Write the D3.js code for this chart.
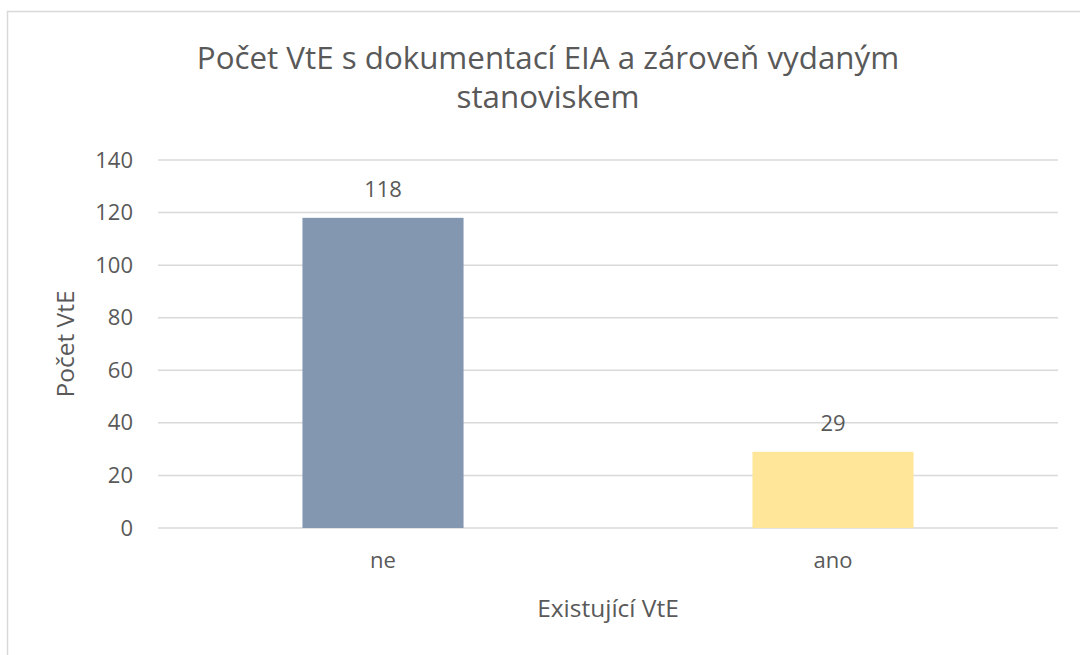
<!DOCTYPE html>
<html><head><meta charset="utf-8">
<script src="https://cdn.jsdelivr.net/npm/d3@7"></script>
<style>body{margin:0;background:#fff;} text{font-family:"Open Sans",sans-serif;fill:#595959;}</style>
</head><body>
<svg id="c" width="1080" height="655"></svg>
<script>
const categories = ["ne", "ano"];
const values = [118, 29];
const colors = ["#8497B0", "#FFE699"];
const yTicks = [0, 20, 40, 60, 80, 100, 120, 140];
const titleLines = ["Počet VtE s dokumentací EIA a zároveň vydaným", "stanoviskem"];
const yTitle = "Počet VtE";
const xTitle = "Existující VtE";

(function () {
const FF = "'Open Sans',sans-serif";
const svg = d3.select("#c");
svg.append("rect").attr("x", 7.5).attr("y", 11.5).attr("width", 1085).attr("height", 660)
  .attr("fill", "#fff").attr("stroke", "#D9D9D9").attr("stroke-width", 1.5);

const pL = 158, pR = 1058, pT = 160, pB = 528;
const x = d3.scaleBand().domain(categories).range([pL, pR]).paddingInner(0.642).paddingOuter(0.321);
const y = d3.scaleLinear().domain([0, 140]).range([pB, pT]);

const grid = svg.append("g");
grid.selectAll("line").data(yTicks).join("line")
  .attr("x1", pL).attr("x2", pR).attr("y1", d => y(d)).attr("y2", d => y(d))
  .attr("stroke", "#D9D9D9").attr("stroke-width", 1.5);

const yAxis = svg.append("g").attr("transform", `translate(${pL},0)`)
  .call(d3.axisLeft(y).tickValues(yTicks).tickSize(0).tickPadding(25));
yAxis.select(".domain").remove();
yAxis.selectAll("text").style("font-size", "22px").attr("fill", "#595959").style("font-family", FF);

svg.selectAll("rect.bar").data(values).join("rect").attr("class", "bar")
  .attr("x", (d, i) => x(categories[i])).attr("width", x.bandwidth())
  .attr("y", d => y(d)).attr("height", d => y(0) - y(d))
  .attr("fill", (d, i) => colors[i]);

svg.selectAll("text.lab").data(values).join("text").attr("class", "lab")
  .attr("x", (d, i) => x(categories[i]) + x.bandwidth() / 2).attr("y", d => y(d) - 21)
  .attr("text-anchor", "middle").style("font-size", "22px").text(d => d);

const xAxis = svg.append("g").attr("transform", `translate(0,${pB})`)
  .call(d3.axisBottom(x).tickSize(0).tickPadding(24));
xAxis.select(".domain").remove();
xAxis.selectAll("text").style("font-size", "22px").attr("fill", "#595959").style("font-family", FF);

const t = svg.append("text").attr("text-anchor", "middle").style("font-size", "31.3px");
titleLines.forEach((l, i) => t.append("tspan").attr("x", 548).attr("y", 69 + i * 39).text(l));

svg.append("text").attr("text-anchor", "middle").attr("transform", "translate(74,344) rotate(-90)")
  .style("font-size", "24.5px").text(yTitle);
svg.append("text").attr("text-anchor", "middle").attr("x", 608).attr("y", 617)
  .style("font-size", "24.5px").text(xTitle);
})();
</script>
</body></html>
